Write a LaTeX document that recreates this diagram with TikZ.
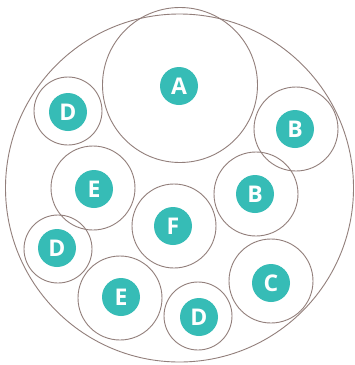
\documentclass[tikz,border=0pt]{standalone}
\usepackage{fontspec}
\setmainfont{Open Sans}
\definecolor{teal1}{HTML}{36BCB6}
\definecolor{ring}{HTML}{927F7B}
\begin{document}
\begin{tikzpicture}[x=1pt,y=-1pt,
  ringc/.style={draw=ring,line width=0.9pt},
  badge/.style={circle,fill=teal1,text=white,minimum size=38pt,inner sep=0pt,font=\fontsize{23}{23}\selectfont\bfseries}]
\useasboundingbox (0,0) rectangle (355,365);
\fill[white] (0,0) rectangle (355,365);
\draw[ringc] (179.5,188) circle (174);
\draw[ringc] (180,85) circle (77.5);
\foreach \n/\x/\y/\r in {d1/68/111/34, b1/296/129/42, e1/93/188/42, b2/256/194/42, f/174/226/42, d2/58/249/34, c/271/281/42, e2/120/298/42, d3/198/316/34}
  \draw[ringc] (\x,\y) circle (\r);
\node[badge] (A) at (179,86) {A};
\node[badge] (D1) at (68,112) {D};
\node[badge] (B1) at (295,129) {B};
\node[badge] (E1) at (94,189) {E};
\node[badge] (B2) at (255,194) {B};
\node[badge] (F) at (173,226) {F};
\node[badge] (D2) at (57,248) {D};
\node[badge] (C) at (271,283) {C};
\node[badge] (E2) at (121,297) {E};
\node[badge] (D3) at (199,317) {D};
\end{tikzpicture}
\end{document}
